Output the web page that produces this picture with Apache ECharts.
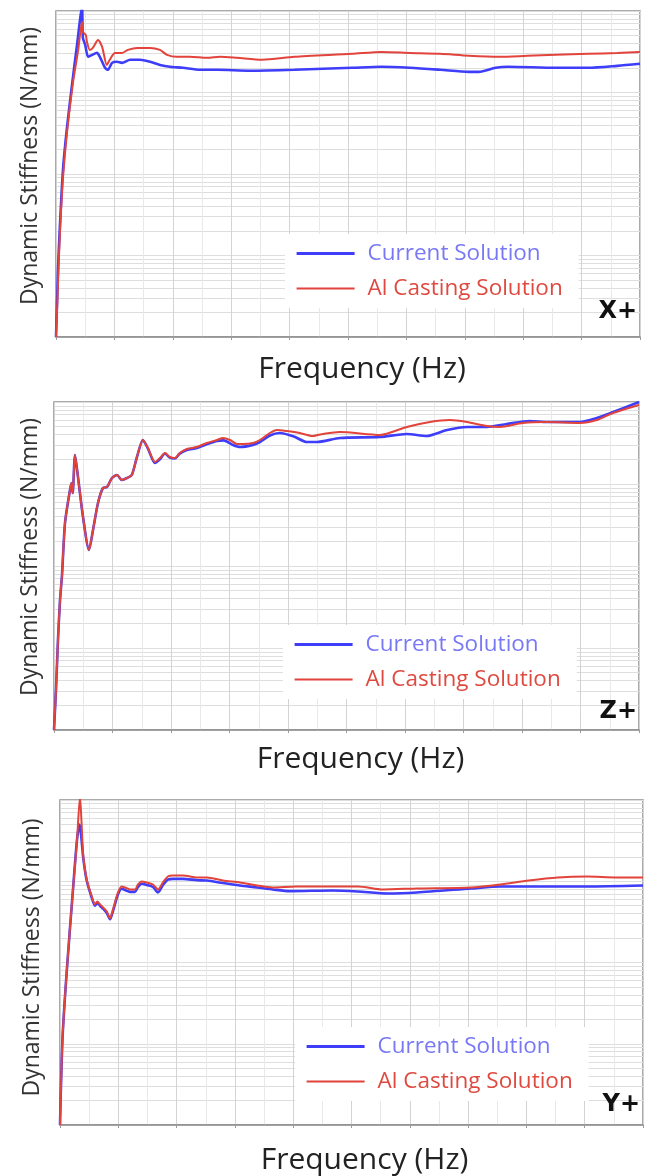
<!DOCTYPE html>
<html>
<head>
<meta charset="utf-8">
<script src="https://cdn.jsdelivr.net/npm/echarts@6/dist/echarts.min.js"></script>
<style>html,body{margin:0;padding:0;background:#fff}#c{width:649px;height:1176px}</style>
</head>
<body>
<div id="c"></div>
<script>
// ---------------- data ----------------
const seriesNames = ['Current Solution', 'Al Casting Solution'];
const panelLabels = ['X+', 'Z+', 'Y+'];
const xAxisName = 'Frequency (Hz)';
const yAxisName = 'Dynamic Stiffness (N/mm)';
const freqRange = [0, 1000];
const freqStep = 100;
const stiffRange = [10, 100000];
const logGridValues = [10,20,30,40,50,60,70,80,90,100,200,300,400,500,600,700,800,900,
  1000,2000,3000,4000,5000,6000,7000,8000,9000,10000,20000,30000,40000,50000,60000,70000,80000,90000,100000];

// X+ direction [frequency Hz, stiffness N/mm]
const xCurrent = [[0,10],[2.5,39],[3.4,68],[6.8,240],[12,1140],[18.8,3700],[27.4,12400],[36,38400],[44.5,110000],[46,46800],[50,38400],[55,27400],[62,29000],[70,30600],[75,27400],[84,20100],[89,19000],[96,23100],[104,23800],[113,23100],[127,25200],[144,25200],[161,23800],[178,21800],[195,20700],[217,20100],[247,19000],[276,19000],[332,18500],[408,19000],[507,20100],[557,20700],[606,20100],[658,19000],[707,17900],[724,17900],[753,20100],[774,20700],[856,20100],[911,20100],[961,21200],[1000,22500]];
const xCasting = [[0,10],[2.5,29],[4.3,68],[6.8,192],[12,906],[18.8,3220],[29,13150],[38,33300],[44.5,73300],[46,55300],[51,50800],[53,41800],[58,33300],[63,35200],[72,44200],[79,36300],[87,21800],[92,25200],[101,30600],[113,30600],[123,33300],[139,35200],[161,35200],[178,33300],[190,29000],[207,27400],[229,27400],[259,26600],[281,27400],[310,26600],[353,25200],[408,27400],[507,29800],[557,31500],[606,30600],[658,29800],[707,28200],[760,27400],[807,28200],[856,29000],[911,29800],[961,30600],[1000,31500]];

// Z+ direction
const zCurrent = [[0,10],[3.4,31],[6.8,125],[10.3,385],[13.7,776],[18.8,3340],[27.3,8450],[30.2,10280],[32,7760],[35.9,22590],[41,12170],[49.6,3960],[59.8,1570],[66.7,2750],[75.2,5870],[83.7,8940],[90.6,9190],[99,11830],[107.7,12880],[116,11190],[124.8,11830],[133,12880],[141.8,21340],[152,34400],[160.6,27000],[172.6,18000],[181,20000],[189.7,23500],[198,21000],[206.8,20500],[215,23500],[227,26000],[244,27500],[261,30500],[278.6,33500],[290,34000],[306,29900],[318,28250],[340,30000],[352,32500],[369,39000],[386,41880],[410,38000],[432,32510],[449,32510],[489,36390],[557,37410],[603,40740],[637,38480],[672,45600],[706,49550],[740,49550],[774,53950],[813,58630],[843,57020],[899,57020],[928,63830],[956,75520],[1000,100000]];
const zCasting = [[0,10],[3.4,31],[6.8,125],[10.3,385],[13.7,776],[18.8,3340],[27.3,8450],[30.2,10280],[32,7760],[35.9,22590],[41,12170],[49.6,3960],[59.8,1570],[66.7,2750],[75.2,5870],[83.7,8940],[90.6,9190],[99,11830],[107.7,12880],[116,11190],[124.8,11830],[133,12880],[141.8,21340],[152,34400],[160.6,27480],[172.6,18550],[181,20750],[189.7,23880],[198,21340],[206.8,20750],[215,23880],[227,26730],[244,28250],[261,31620],[278.6,34400],[288.8,36390],[300.8,34400],[312.7,30760],[323,30760],[340,31620],[352,34400],[369,41880],[381,45600],[398,44270],[420,41880],[442.6,38480],[459.7,40740],[488.7,43060],[557,39620],[603,49550],[642.6,57020],[676.8,60260],[705.8,57020],[740,50960],[762,49550],[801.5,55460],[842.5,57020],[899,55460],[928,60260],[955.6,73420],[1000,91900]];

// Y+ direction
const yCurrent = [[0,10],[4.3,116],[11.5,765],[22.3,7925],[29.2,32430],[33.5,50000],[40,19000],[45.8,10200],[54.4,6300],[60,5000],[64,5400],[68.6,5000],[73.7,4600],[80,4100],[85.8,3400],[90.9,4300],[99.5,6900],[105.8,8100],[111.5,7800],[120,7400],[128.6,7400],[133.8,8500],[140,9300],[148.7,9000],[159.5,8500],[168,7300],[176.6,9000],[185,10500],[193.8,10700],[211,10700],[235,10300],[252,10200],[279.5,9500],[308.7,8870],[337.9,8390],[365,7925],[394.5,7560],[468,7710],[511,7490],[562,7080],[612,7280],[705,8150],[755,8630],[827,8630],[904,8630],[1000,8870]];
const yCasting = [[0,10],[4.3,116],[11.5,765],[22.3,7925],[29.2,32430],[34.3,110000],[37,52000],[40,20090],[45.8,10500],[54.4,6510],[60,5200],[64,5650],[68.6,5200],[73.7,4775],[80,4265],[85.8,3500],[90.9,4510],[99.5,7280],[105.8,8630],[111.5,8390],[120,7925],[128.6,7925],[133.8,9125],[140,9935],[148.7,9660],[159.5,9125],[168,7925],[176.6,9660],[185,11430],[193.8,11750],[211,11750],[235,11120],[252,11120],[279.5,10210],[308.7,9660],[337.9,8870],[365,8390],[404.6,8630],[511,8630],[554,7925],[612,8150],[705,8390],[755,9125],[804,10210],[854,11120],[904,11430],[955,11120],[1000,11120]];

// ---------------- layout / style ----------------
const panels = [[xCurrent, xCasting], [zCurrent, zCasting], [yCurrent, yCasting]];
const gridBoxes = [
  {left: 56, top: 11, width: 584, height: 326},
  {left: 54, top: 402, width: 585, height: 328},
  {left: 60, top: 800, width: 583, height: 327}
];
const xNameGaps = [17, 14, 20];
const xNameShift = [28, 28, 26];
const yNameGaps = [14, 12, 16];
const yNameShift = [16, 18, 10];
const legendPos = [{left: 285, top: 234}, {left: 283, top: 625}, {left: 295, top: 1027}];
const labelPos = [[637, 312], [637, 712], [640, 1105]];
const lineColors = ['#3d3dfa', '#e2433b'];
const lineWidths = [2.6, 2];
const legendLineWidths = [3.2, 2];
const legendTextColors = ['#7878f6', '#df4a40'];
const FONT = 'Open Sans';

const grid = [], xAxis = [], yAxis = [], series = [], legend = [], graphic = [];
panels.forEach((pair, i) => {
  grid.push(Object.assign({show: true, borderColor: '#8e8e8e', borderWidth: 1.5, backgroundColor: '#fff'}, gridBoxes[i]));
  xAxis.push({
    type: 'value', gridIndex: i, min: freqRange[0], max: freqRange[1], interval: freqStep,
    axisLine: {show: true, lineStyle: {color: '#8e8e8e', width: 1.5}},
    axisTick: {show: true, length: 3, lineStyle: {color: '#9a9a9a'}},
    axisLabel: {show: false},
    splitLine: {show: true, lineStyle: {color: '#d3d3d3', width: 1}},
    minorTick: {show: false, splitNumber: 2},
    minorSplitLine: {show: true, lineStyle: {color: '#e8e8e8', width: 1}},
    name: xAxisName, nameLocation: 'middle', nameGap: xNameGaps[i],
    nameTextStyle: {fontSize: 30, color: '#222', fontFamily: FONT, padding: [0, 0, 0, xNameShift[i]]}
  });
  yAxis.push({
    type: 'log', logBase: 10, gridIndex: i, min: stiffRange[0], max: stiffRange[1],
    axisLine: {show: false},
    axisTick: {show: false, customValues: logGridValues},
    axisLabel: {show: false},
    splitLine: {show: true, lineStyle: {color: '#dedede', width: 1}},
    name: yAxisName, nameLocation: 'middle', nameGap: yNameGaps[i], nameRotate: 90,
    nameTextStyle: {fontSize: 23, color: '#333', fontFamily: FONT, padding: [0, 0, 0, yNameShift[i]]}
  });
  pair.forEach((data, k) => {
    series.push({
      type: 'line', name: seriesNames[k], xAxisIndex: i, yAxisIndex: i,
      data: data, symbol: 'none', smooth: 0.25, clip: true, z: 2 + k,
      lineStyle: {color: lineColors[k], width: lineWidths[k]},
      itemStyle: {color: lineColors[k]}
    });
  });
  legend.push({
    orient: 'vertical', left: legendPos[i].left, top: legendPos[i].top,
    backgroundColor: '#fff', padding: [8, 16, 8, 10], itemGap: 12,
    itemWidth: 58, itemHeight: 14, selectedMode: false,
    itemStyle: {opacity: 0},
    textStyle: {fontSize: 22.5, fontFamily: FONT, padding: [0, 0, 0, 8]},
    data: seriesNames.map((n, k) => ({
      name: n,
      itemStyle: {opacity: 0},
      lineStyle: {width: legendLineWidths[k], color: lineColors[k]},
      textStyle: {color: legendTextColors[k]}
    }))
  });
  graphic.push({
    type: 'text', x: labelPos[i][0], y: labelPos[i][1], z: 100,
    style: {text: panelLabels[i], fill: '#111', font: 'bold 24px "DejaVu Sans"', align: 'right', verticalAlign: 'middle'}
  });
});

const chart = echarts.init(document.getElementById('c'));
chart.setOption({animation: false, backgroundColor: '#fff', grid, xAxis, yAxis, series, legend, graphic});
</script>
</body>
</html>
